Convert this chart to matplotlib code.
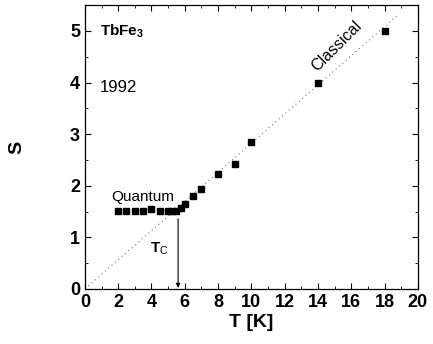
import matplotlib
matplotlib.use('Agg')
import matplotlib.pyplot as plt
import numpy as np

plt.rcParams['font.family'] = ['Liberation Sans', 'DejaVu Sans']
plt.rcParams['mathtext.fontset'] = 'custom'
plt.rcParams['mathtext.rm'] = 'Liberation Sans'
plt.rcParams['mathtext.bf'] = 'Liberation Sans:bold'

# measured points
T = [2, 2.5, 3, 3.5, 4, 4.5, 5, 5.25, 5.5, 5.75, 6, 6.5, 7, 8, 9, 10, 14, 18]
S = [1.51, 1.51, 1.51, 1.51, 1.54, 1.51, 1.51, 1.51, 1.51, 1.56, 1.65, 1.80,
     1.94, 2.23, 2.43, 2.84, 3.99, 4.99]

# classical line end points
T_cl = [0, 18.8]
S_cl = [0, 5.31]

Tc = 5.6

fig = plt.figure(figsize=(4.33, 3.44), dpi=100)
ax = fig.add_axes([0.196, 0.160, 0.769, 0.825])

ax.plot(T_cl, S_cl, linestyle=(0, (1, 3)), color='#777777', linewidth=0.8)
ax.plot(T, S, 's', color='black', markersize=4.2)

# Tc arrow
ax.annotate('', xy=(Tc, 0.02), xytext=(Tc, 1.36),
            arrowprops=dict(arrowstyle='-|>', color='black', lw=0.8,
                            mutation_scale=6, shrinkA=0, shrinkB=0))

ax.text(0.9, 5.0, r'$\mathbf{TbFe_3}$', fontsize=11, va='center')
ax.text(0.9, 3.9, '1992', fontsize=12, va='center')
ax.text(3.5, 1.79, 'Quantum', fontsize=11, ha='center', va='center')
ax.text(4.5, 0.78, r'$\mathbf{T}_\mathrm{C}$', fontsize=11, ha='center', va='center')
ax.text(15.1, 4.7, 'Classical', fontsize=11.5, ha='center', va='center',
        rotation=45)

ax.set_xlim(0, 20)
ax.set_ylim(0, 5.5)
ax.set_xticks(np.arange(0, 21, 2))
ax.set_yticks(np.arange(0, 6, 1))
ax.set_xticks(np.arange(0, 21, 1), minor=True)
ax.set_yticks(np.arange(0, 5.6, 0.5), minor=True)
ax.tick_params(which='both', direction='in', top=True, right=True)
ax.tick_params(which='major', length=4, labelsize=13)
ax.tick_params(which='minor', length=2)
for lbl in ax.get_xticklabels() + ax.get_yticklabels():
    lbl.set_fontweight('bold')
for sp in ax.spines.values():
    sp.set_linewidth(0.9)

ax.set_xlabel('T [K]', fontsize=14, fontweight='bold', labelpad=2)
ax.set_ylabel('S', fontsize=14, fontweight='bold', labelpad=32)

plt.savefig('out.png', dpi=100)
